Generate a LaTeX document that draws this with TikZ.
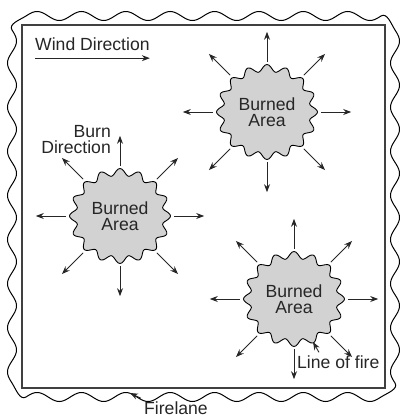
\documentclass[tikz,border=0pt]{standalone}
\usepackage{fontspec}
\setmainfont{Liberation Sans}
\usetikzlibrary{arrows.meta, shapes.geometric}

\begin{document}
\begin{tikzpicture}[x=1pt, y=-1pt, font=\fontsize{17.6}{16}\selectfont,
        arr/.style={-{Stealth[length=8pt, width=6pt]}, line width=0.9pt, black!85},
        area/.style={ellipse, minimum width=108pt, minimum height=100pt, inner sep=0pt, align=center},
        lbl/.style={inner sep=0pt, text=black!85}]
    \useasboundingbox (0,0) rectangle (399,417);

    % firelane
    \draw[line width=1pt]
        plot[variable=\s, domain=26:381, samples=161, smooth] ({\s}, {16-4.5*sin(8.1127*(\s-26))})
        .. controls (387,12.2) and (391.2,24) .. (395,30)
        -- plot[variable=\s, domain=30:383, samples=161, smooth] ({395+4.5*sin(8.1586*(\s-30))}, {\s})
        .. controls (398.8,389) and (387,393.2) .. (381,397)
        -- plot[variable=\s, domain=381:26, samples=161, smooth] ({\s}, {397+4.5*sin(8.1127*(381-\s))})
        .. controls (20,400.8) and (15.8,389) .. (12,383)
        -- plot[variable=\s, domain=383:30, samples=161, smooth] ({12-4.5*sin(8.1586*(383-\s))}, {\s})
        .. controls (8.2,24) and (20,19.8) .. (26,16);
    % field
    \draw[line width=1.3pt, black!75] (22,25) rectangle (385,388);

    % burned areas
    \foreach \n/\cx/\cy in {left/120/216, top/267/112, right/294/299} {
        \draw[line width=0.9pt, fill=gray!35] plot[variable=\t, domain=0:360, samples=181, smooth]
            ({\cx+(47+3.5*cos(16*\t))*cos(\t)}, {\cy+(44+3.5*cos(16*\t))*sin(\t)}) -- cycle;
        \node[area, lbl] (\n) at (\cx,\cy) {Burned\\Area};
        \foreach \a in {0,45,...,315}
            \draw[arr] (\n.\a) -- ++(\a:30pt);
    }

    \node[lbl, anchor=west] (wind) at (35,44) {Wind Direction};
    \draw[arr] ([yshift=-7.5pt]wind.south west) -- ([yshift=-7.5pt]wind.south east);

    \node[lbl, anchor=east, align=right] (burn) at (111,140) {Burn\\Direction};

    \node[lbl, anchor=west] (fire) at (297,362) {Line of fire};
    \coordinate (fireedge) at (313,342);
    \draw[arr] ([shift={(22pt,3pt)}]fire.north west) -- (fireedge);

    \node[lbl, anchor=west] (lane) at (144,408) {Firelane};
    \coordinate (laneedge) at (130,393);
    \draw[arr] ([shift={(-3pt,3pt)}]lane.north west) -- (laneedge);
\end{tikzpicture}
\end{document}
